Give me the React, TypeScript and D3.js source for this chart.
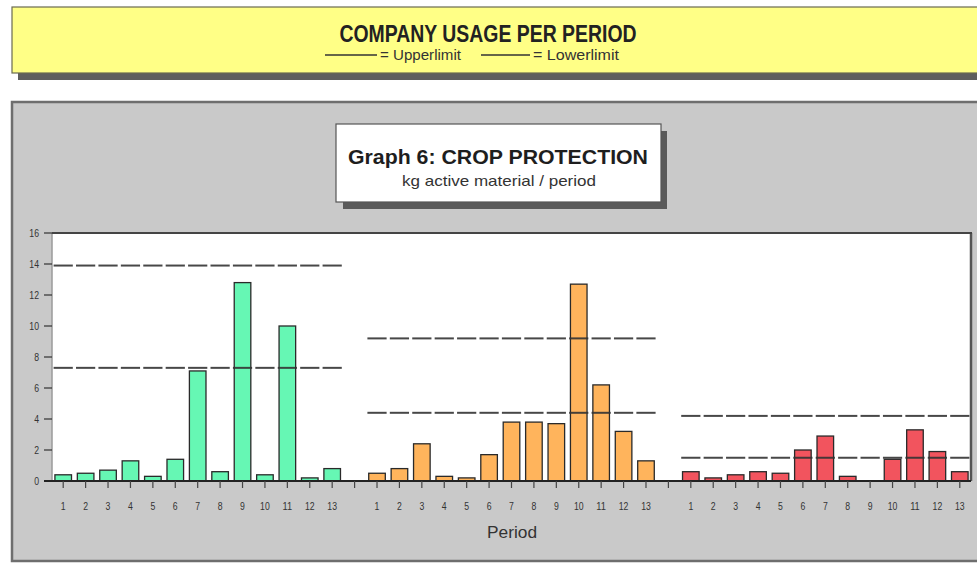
import React from 'react';
import * as d3 from 'd3';

const periods = ['1', '2', '3', '4', '5', '6', '7', '8', '9', '10', '11', '12', '13'];
const greenValues = [0.4, 0.5, 0.7, 1.3, 0.3, 1.4, 7.1, 0.6, 12.8, 0.4, 10.0, 0.2, 0.8];
const orangeValues = [0.5, 0.8, 2.4, 0.3, 0.2, 1.7, 3.8, 3.8, 3.7, 12.7, 6.2, 3.2, 1.3];
const redValues = [0.6, 0.2, 0.4, 0.6, 0.5, 2.0, 2.9, 0.3, 0, 1.4, 3.3, 1.9, 0.6];
const upperLimits = [13.9, 9.2, 4.2];
const lowerLimits = [7.3, 4.4, 1.5];
const groupColors = ['#66f7b4', '#ffb45c', '#f2545e'];
const yTicks = [0, 2, 4, 6, 8, 10, 12, 14, 16];

const narrow = "'Liberation Sans Narrow', 'Arial Narrow', 'Liberation Sans', Arial, sans-serif";
const sans = "'Liberation Sans', Arial, sans-serif";

const W = 977;
const H = 563;
const plot = { left: 52, right: 971, top: 233, bottom: 481 };

const seriesValues = [greenValues, orangeValues, redValues];

// one band per period, plus an empty band between the groups
const slots: { key: string; label: string; group: number; value: number | null }[] = [];
seriesValues.forEach((vals, g) => {
  if (g > 0) slots.push({ key: `gap-${g}`, label: '', group: -1, value: null });
  periods.forEach((p, i) => slots.push({ key: `${g}-${p}`, label: p, group: g, value: vals[i] }));
});

// squeeze text a bit, the original uses a narrow face
const NarrowText = ({ x, y, size, anchor = 'start', children, weight = 'normal', fill = '#333' }: any) => {
  const w = String(children).length * size * 0.42;
  return (
    <text x={x} y={y} textAnchor={anchor} fontFamily={narrow} fontSize={size} fontWeight={weight} fill={fill}
      textLength={w} lengthAdjust="spacingAndGlyphs">
      {children}
    </text>
  );
};

export default function App() {
  const x = d3.scaleBand().domain(slots.map(s => s.key)).range([plot.left, plot.right]).paddingInner(0.26).paddingOuter(0.13);
  const step = x.step();
  const y = d3.scaleLinear().domain([0, 16]).range([plot.bottom, plot.top]);

  const limitSegs: { key: string; x0: number; x1: number; v: number }[] = [];
  slots.forEach(s => {
    if (s.group < 0) return;
    const c = (x(s.key) as number) + x.bandwidth() / 2;
    [upperLimits[s.group], lowerLimits[s.group]].forEach((v, j) => {
      limitSegs.push({ key: `${s.key}-${j}`, x0: c - step / 2 + 1.6, x1: c + step / 2 - 1.6, v });
    });
  });

  return (
    <svg width={W} height={H} style={{ position: 'absolute', left: 0, top: 0, display: 'block' }}>
      <rect x={0} y={0} width={W} height={H} fill="#ffffff" />

      {/* header banner */}
      <rect x={18} y={13} width={980} height={67} fill="#5e5e5e" />
      <rect x={12} y={7} width={980} height={66} fill="#ffff86" stroke="#6a6a52" strokeWidth={1.2} />
      <text x={488} y={42} textAnchor="middle" fontFamily={narrow} fontWeight="bold" fontSize={23} fill="#222" textLength={297} lengthAdjust="spacingAndGlyphs">
        COMPANY USAGE PER PERIOD
      </text>
      <line x1={325} x2={377} y1={55} y2={55} stroke="#333" strokeWidth={1.5} />
      <text x={380} y={60} fontFamily={narrow} fontSize={14} fill="#333" textLength={81} lengthAdjust="spacingAndGlyphs">= Upperlimit</text>
      <line x1={481} x2={530} y1={55} y2={55} stroke="#333" strokeWidth={1.5} />
      <text x={533} y={60} fontFamily={narrow} fontSize={14} fill="#333" textLength={86} lengthAdjust="spacingAndGlyphs">= Lowerlimit</text>

      {/* chart panel */}
      <rect x={12} y={102} width={990} height={459} fill="#c9c9c9" stroke="#6e6e6e" strokeWidth={2.5} />

      {/* title box */}
      <rect x={343} y={131} width={324} height={78} fill="#5a5a5a" />
      <rect x={336} y={124} width={325} height={78} fill="#ffffff" stroke="#555" strokeWidth={1.2} />
      <text x={498} y={164} textAnchor="middle" fontFamily={sans} fontWeight="bold" fontSize={21} fill="#1e1e1e" textLength={300} lengthAdjust="spacingAndGlyphs">
        Graph 6: CROP PROTECTION
      </text>
      <text x={499} y={186} textAnchor="middle" fontFamily={narrow} fontSize={15} fill="#333" textLength={194} lengthAdjust="spacingAndGlyphs">
        kg active material / period
      </text>

      {/* plot area */}
      <rect x={plot.left} y={plot.top} width={plot.right - plot.left} height={plot.bottom - plot.top} fill="#ffffff" />
      <line x1={plot.left} x2={plot.left} y1={plot.top} y2={plot.bottom} stroke="#9a9a9a" strokeWidth={1.5} />
      <line x1={plot.right} x2={plot.right} y1={plot.top} y2={plot.bottom} stroke="#555" strokeWidth={2.5} />
      <line x1={plot.left} x2={plot.right + 1} y1={plot.top} y2={plot.top} stroke="#444" strokeWidth={1.8} />

      {/* y axis */}
      {yTicks.map(t => (
        <g key={t}>
          <line x1={plot.left - 8} x2={plot.left} y1={y(t)} y2={y(t)} stroke="#333" strokeWidth={1.2} />
          <NarrowText x={39} y={y(t) + 4} size={11.5} anchor="end">{t}</NarrowText>
        </g>
      ))}

      {/* bars */}
      {slots.filter(s => s.group >= 0 && (s.value as number) > 0).map(s => (
        <rect
          key={s.key}
          x={x(s.key)}
          y={y(s.value as number)}
          width={x.bandwidth()}
          height={y(0) - y(s.value as number)}
          fill={groupColors[s.group]}
          stroke="#2a2a2a"
          strokeWidth={1.3}
        />
      ))}

      {/* limit lines */}
      {limitSegs.map(d => (
        <line key={d.key} x1={d.x0} x2={d.x1} y1={y(d.v)} y2={y(d.v)} stroke="#333" strokeWidth={2} strokeOpacity={0.9} />
      ))}

      {/* x axis */}
      <line x1={plot.left - 8} x2={plot.right} y1={plot.bottom} y2={plot.bottom} stroke="#222" strokeWidth={1.8} />
      {slots.map(s => {
        const c = (x(s.key) as number) + x.bandwidth() / 2;
        return (
          <g key={s.key}>
            <line x1={c} x2={c} y1={plot.bottom} y2={plot.bottom + 7} stroke="#444" strokeWidth={1.2} />
            {s.label && <NarrowText x={c} y={510} size={11.5} anchor="middle">{s.label}</NarrowText>}
          </g>
        );
      })}
      <text x={512} y={538} textAnchor="middle" fontFamily={narrow} fontSize={16} fill="#333" textLength={50} lengthAdjust="spacingAndGlyphs">Period</text>
    </svg>
  );
}
